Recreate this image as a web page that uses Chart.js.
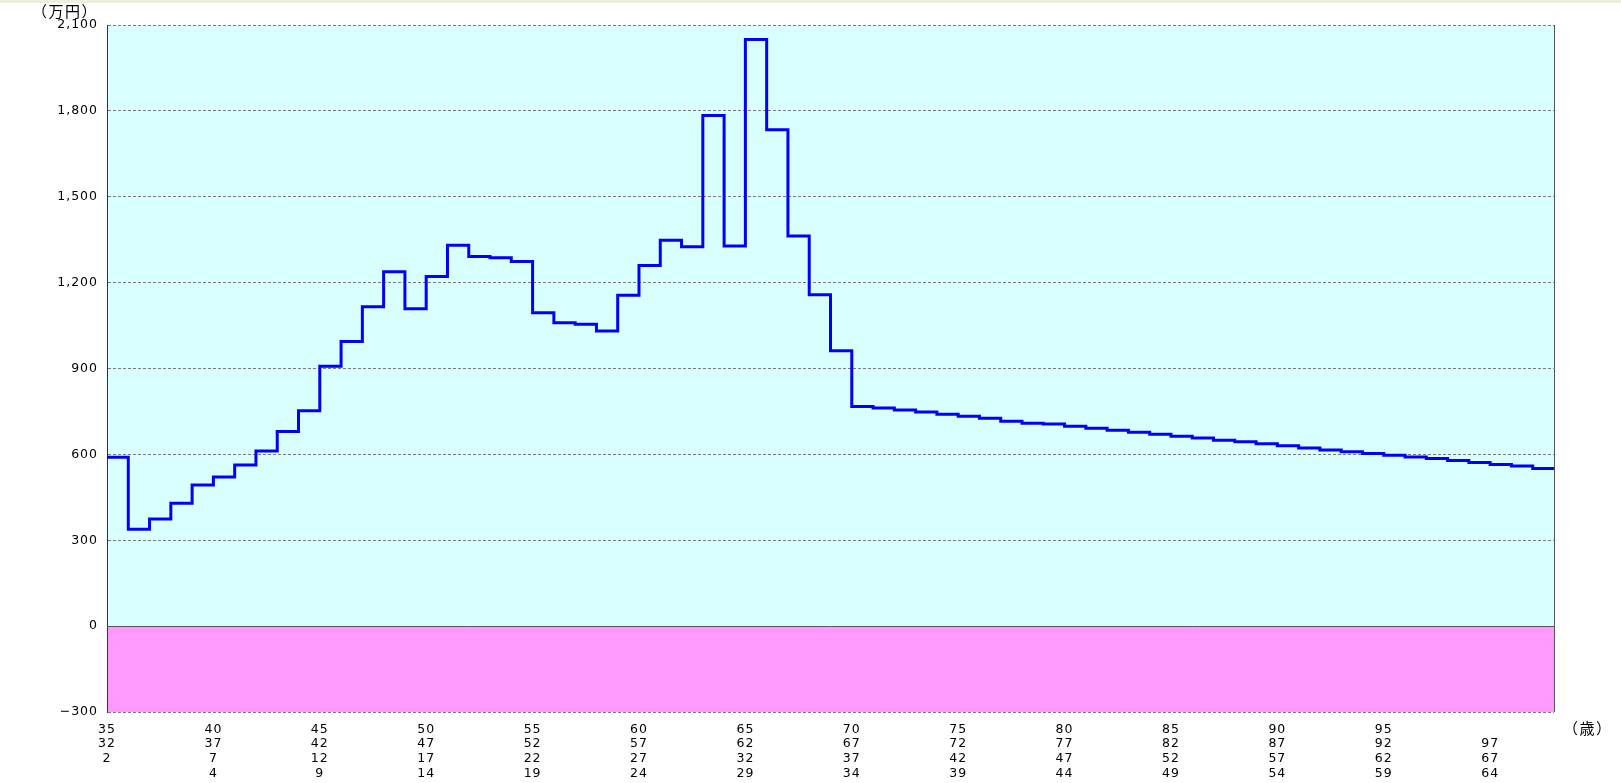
<!DOCTYPE html>
<html lang="ja">
<head>
<meta charset="utf-8">
<title>資産推移</title>
<script src="https://cdn.jsdelivr.net/npm/chart.js@4.4.1/dist/chart.umd.min.js"></script>
<style>
  html, body { margin: 0; padding: 0; background: #fff; overflow: hidden; }
  canvas { display: block; }
</style>
</head>
<body>
<canvas id="balanceChart" width="1621" height="783"></canvas>
<script>
// ages (one step per year) and balance in 万円
const ages = [
  35, 36, 37, 38, 39, 40, 41, 42, 43, 44, 45, 46, 47, 48, 49, 50, 51,
  52, 53, 54, 55, 56, 57, 58, 59, 60, 61, 62, 63, 64, 65, 66, 67, 68,
  69, 70, 71, 72, 73, 74, 75, 76, 77, 78, 79, 80, 81, 82, 83, 84, 85,
  86, 87, 88, 89, 90, 91, 92, 93, 94, 95, 96, 97, 98, 99, 100, 101, 102
];
const balances = [
  590, 338, 374, 429, 493, 521, 563, 612, 680, 752, 908, 994, 1116, 1238, 1109, 1221, 1331,
  1291, 1287, 1274, 1095, 1060, 1055, 1031, 1156, 1260, 1348, 1325, 1784, 1328, 2049, 1734, 1363, 1158,
  962, 767, 762, 755, 748, 740, 733, 726, 716, 709, 706, 698, 691, 684, 677, 670, 663,
  657, 649, 644, 637, 630, 622, 615, 609, 603, 597, 591, 586, 579, 572, 565, 559, 551
];

// x tick positions and the four label rows under each
const tickAges = [35, 40, 45, 50, 55, 60, 65, 70, 75, 80, 85, 90, 95, 100];
const rowAge   = ['35', '40', '45', '50', '55', '60', '65', '70', '75', '80', '85', '90', '95', ''];
const rowB     = ['32', '37', '42', '47', '52', '57', '62', '67', '72', '77', '82', '87', '92', '97'];
const rowC     = ['2', '7', '12', '17', '22', '27', '32', '37', '42', '47', '52', '57', '62', '67'];
const rowD     = ['', '4', '9', '14', '19', '24', '29', '34', '39', '44', '49', '54', '59', '64'];

const yTicks = { min: -300, max: 2100, step: 300 };

const xMax = ages[ages.length - 1] + 1;
const points = ages.map((a, i) => ({ x: a, y: balances[i] }));
points.push({ x: xMax, y: balances[balances.length - 1] });

function formatYen(v) {
  const s = Math.abs(v).toLocaleString('en-US');
  return v < 0 ? '\u2212' + s : s;
}

const backdrop = {
  id: 'backdrop',
  beforeUpdate(chart) {
    chart.ctx.letterSpacing = '1px';
  },
  beforeDraw(chart) {
    const { ctx, chartArea: a, scales: { y } } = chart;
    const zero = y.getPixelForValue(0);
    ctx.save();
    ctx.fillStyle = '#efefe0';
    ctx.fillRect(0, 0, chart.width, 3);
    ctx.fillStyle = '#daffff';
    ctx.fillRect(a.left, a.top, a.right - a.left, zero - a.top);
    ctx.fillStyle = '#ff99ff';
    ctx.fillRect(a.left, zero, a.right - a.left, a.bottom - zero);
    ctx.restore();
  },
  beforeDatasetsDraw(chart) {
    const { ctx, chartArea: a, scales: { y } } = chart;
    const zero = Math.round(y.getPixelForValue(0)) + 0.5;
    const right = Math.round(a.right) + 0.5;
    ctx.save();
    ctx.strokeStyle = '#555';
    ctx.lineWidth = 1;
    ctx.beginPath();
    ctx.moveTo(a.left, zero);
    ctx.lineTo(a.right, zero);
    ctx.moveTo(right, a.top);
    ctx.lineTo(right, a.bottom);
    ctx.stroke();
    ctx.restore();
  },
  afterDraw(chart) {
    const ctx = chart.ctx;
    ctx.save();
    ctx.letterSpacing = '1.5px';
    ctx.font = '15px "Noto Sans CJK JP", sans-serif';
    ctx.fillStyle = '#000';
    ctx.textBaseline = 'middle';
    ctx.fillText('（万円）', 32, 11);
    ctx.fillText('（歳）', 1563, 728);
    ctx.restore();
  }
};

Chart.defaults.font.family = '"DejaVu Sans", sans-serif';
Chart.defaults.font.size = 12.5;
Chart.defaults.color = '#000';

const ctx = document.getElementById('balanceChart').getContext('2d');

new Chart(ctx, {
  type: 'line',
  data: {
    datasets: [{
      data: points,
      stepped: true,
      borderColor: '#0000ff',
      borderWidth: 3,
      borderJoinStyle: 'miter',
      pointRadius: 0,
      fill: false
    }]
  },
  options: {
    responsive: false,
    animation: false,
    devicePixelRatio: 1,
    events: [],
    layout: { padding: { top: 25, right: 67, bottom: 0, left: 0 } },
    scales: {
      x: {
        type: 'linear',
        min: ages[0],
        max: xMax,
        afterFit(scale) { scale.height = 71; },
        afterBuildTicks(scale) { scale.ticks = tickAges.map(v => ({ value: v })); },
        grid: { display: false, drawTicks: false },
        border: { display: false },
        ticks: {
          autoSkip: false,
          maxRotation: 0,
          padding: 10,
          font: { size: 12.5, lineHeight: 1.18 },
          callback: (v, i) => [rowAge[i], rowB[i], rowC[i], rowD[i]]
        }
      },
      y: {
        min: yTicks.min,
        max: yTicks.max,
        afterFit(scale) { scale.width = 107; },
        ticks: {
          stepSize: yTicks.step,
          padding: 9,
          callback: v => formatYen(v)
        },
        grid: {
          color: c => c.tick && c.tick.value === 0 ? 'rgba(0,0,0,0)' : '#7a7a7a',
          lineWidth: 1,
          drawTicks: false
        },
        border: { color: '#333', width: 1, dash: [3, 2] }
      }
    },
    plugins: {
      legend: { display: false },
      tooltip: { enabled: false }
    }
  },
  plugins: [backdrop]
});
</script>
</body>
</html>
